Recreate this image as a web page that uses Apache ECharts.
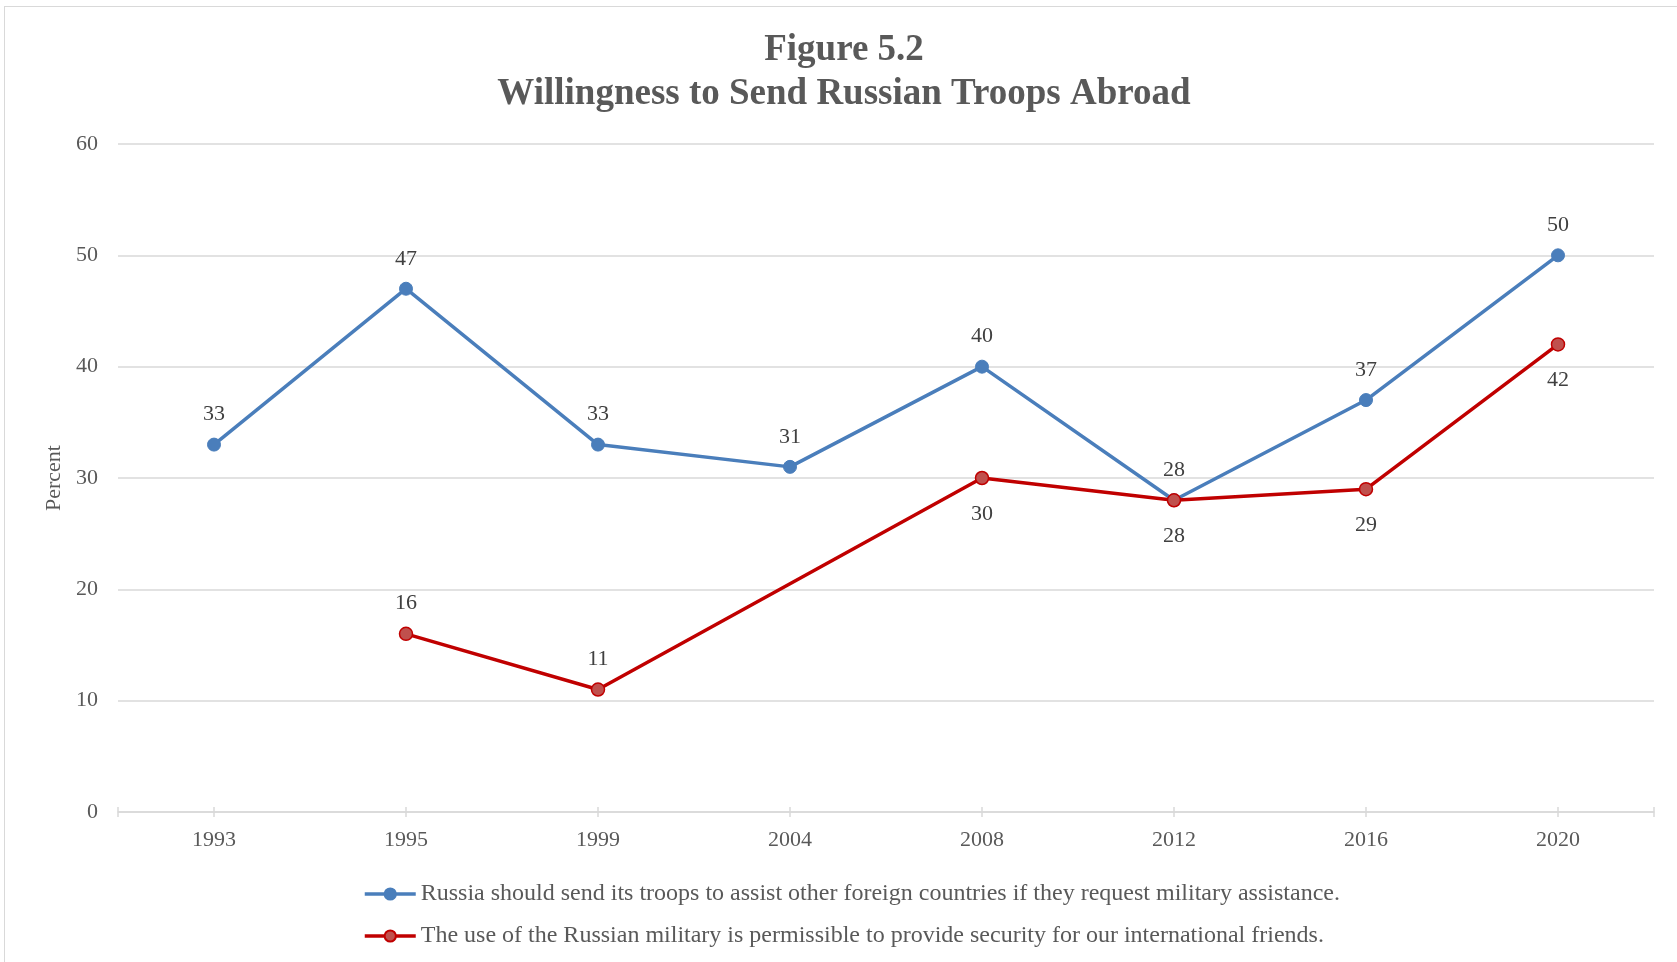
<!DOCTYPE html>
<html>
<head>
<meta charset="utf-8">
<script src="https://cdn.jsdelivr.net/npm/echarts@6/dist/echarts.min.js"></script>
<style>
html,body{margin:0;padding:0;background:#fff;}
#chart{width:1677px;height:962px;}
#frame{position:absolute;left:4px;top:6px;width:1700px;height:1000px;border-left:1.5px solid #d9d9d9;border-top:1.5px solid #d9d9d9;pointer-events:none;}
</style>
</head>
<body>
<div id="chart"></div>
<div id="frame"></div>
<script>
var years = ['1993', '1995', '1999', '2004', '2008', '2012', '2016', '2020'];
var sendTroops = [33, 47, 33, 31, 40, 28, 37, 50];
var securityFriends = [null, 16, 11, null, 30, 28, 29, 42];
var yTicks = [0, 10, 20, 30, 40, 50, 60];
var seriesNames = [
  'Russia should send its troops to assist other foreign countries if they request military assistance.',
  'The use of the Russian military is permissible to provide security for our international friends.'
];

var FONT = '"Liberation Serif", "Times New Roman", serif';
var BLUE = '#4a7ebb';
var RED = '#c00000';

var redData = securityFriends.map(function (v, i) {
  if (v === null) return null;
  var above = (sendTroops[i] - v) > 12;
  return { value: v, label: { position: above ? 'top' : 'bottom', distance: above ? 12 : 18 } };
});

var chart = echarts.init(document.getElementById('chart'), null, { renderer: 'canvas' });
var tickLine = { color: '#d9d9d9', width: 1.5 };
chart.setOption({
  backgroundColor: '#ffffff',
  animation: false,
  title: {
    text: 'Figure 5.2\nWillingness to Send Russian Troops Abroad',
    left: 839,
    textAlign: 'center',
    top: 23,
    textStyle: { fontFamily: FONT, fontWeight: 'bold', fontSize: 37, lineHeight: 44, color: '#595959' }
  },
  legend: {
    orient: 'vertical',
    left: 358,
    top: 877,
    itemGap: 18,
    itemWidth: 51,
    itemHeight: 14,
    lineStyle: { width: 3.5 },
    textStyle: { fontFamily: FONT, fontSize: 24, color: '#595959' },
    data: seriesNames
  },
  grid: { left: 118, right: 23, top: 144, bottom: 150, containLabel: false },
  xAxis: [
    {
      type: 'category', data: years, boundaryGap: true,
      axisLine: { show: true, lineStyle: tickLine },
      axisTick: { show: true, alignWithLabel: true, length: 5, lineStyle: tickLine },
      axisLabel: { fontFamily: FONT, fontSize: 22, color: '#595959', margin: 17 },
      splitLine: { show: false }
    },
    {
      type: 'category', data: years, boundaryGap: true, position: 'bottom',
      axisLine: { show: false },
      axisTick: { show: true, inside: true, alignWithLabel: true, length: 5, lineStyle: tickLine },
      axisLabel: { show: false }, splitLine: { show: false }
    },
    {
      type: 'value', min: 0, max: 1, interval: 1, position: 'bottom',
      axisLine: { show: false },
      axisTick: { show: true, length: 5, lineStyle: tickLine },
      axisLabel: { show: false }, splitLine: { show: false }
    },
    {
      type: 'value', min: 0, max: 1, interval: 1, position: 'bottom',
      axisLine: { show: false },
      axisTick: { show: true, inside: true, length: 5, lineStyle: tickLine },
      axisLabel: { show: false }, splitLine: { show: false }
    }
  ],
  yAxis: {
    type: 'value',
    min: yTicks[0], max: yTicks[yTicks.length - 1], interval: yTicks[1] - yTicks[0],
    name: 'Percent', nameLocation: 'middle', nameGap: 52, nameRotate: 90,
    nameTextStyle: { fontFamily: FONT, fontSize: 22, color: '#595959' },
    axisLine: { show: false }, axisTick: { show: false },
    axisLabel: { fontFamily: FONT, fontSize: 22, color: '#595959', margin: 20 },
    splitLine: { show: true, lineStyle: tickLine }
  },
  series: [
    {
      name: seriesNames[0], type: 'line', data: sendTroops,
      symbol: 'circle', symbolSize: 13,
      lineStyle: { color: BLUE, width: 3.5 },
      itemStyle: { color: BLUE, borderColor: BLUE, borderWidth: 1 },
      label: { show: true, position: 'top', distance: 12, fontFamily: FONT, fontSize: 22, color: '#404040' }
    },
    {
      name: seriesNames[1], type: 'line', data: redData, connectNulls: true,
      symbol: 'circle', symbolSize: 13,
      lineStyle: { color: RED, width: 3.5 },
      itemStyle: { color: '#c0504d', borderColor: RED, borderWidth: 1.5 },
      label: { show: true, fontFamily: FONT, fontSize: 22, color: '#404040' }
    }
  ]
});
</script>
</body>
</html>
